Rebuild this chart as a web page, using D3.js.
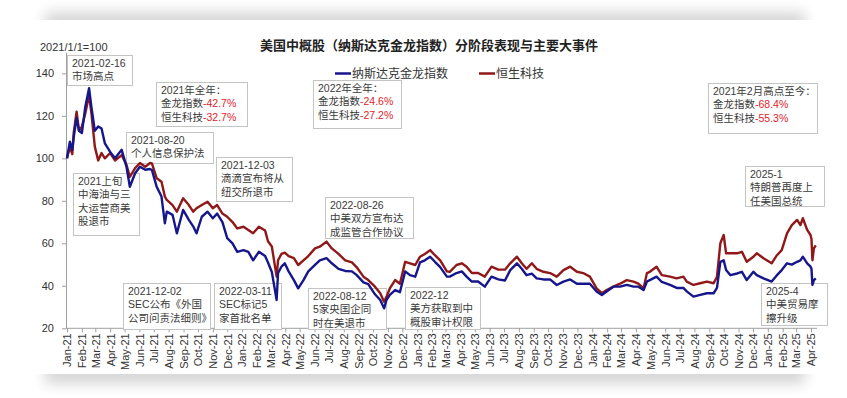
<!DOCTYPE html>
<html><head><meta charset="utf-8">
<script src="https://cdn.jsdelivr.net/npm/d3@7"></script>
<style>
html,body{margin:0;padding:0;background:#fff;}
svg{display:block;font-family:"Liberation Sans",Arial,"Noto Sans CJK SC",sans-serif;}
</style></head>
<body><svg id="c" width="847" height="398"></svg>
<script>
// ---------------- data ----------------
const dates = ["2021-01-01","2021-01-07","2021-01-12","2021-01-15","2021-01-21","2021-01-26","2021-02-01","2021-02-08","2021-02-16","2021-02-21",
"2021-02-28","2021-03-07","2021-03-14","2021-03-21","2021-04-01","2021-04-11","2021-04-25","2021-05-05","2021-05-12","2021-05-23",
"2021-06-02","2021-06-13","2021-06-23","2021-06-27","2021-07-07","2021-07-17","2021-07-24","2021-07-28","2021-08-09","2021-08-18",
"2021-08-31","2021-09-12","2021-09-21","2021-09-28","2021-10-09","2021-10-21","2021-11-01","2021-11-10","2021-11-21","2021-12-01",
"2021-12-12","2021-12-22","2022-01-04","2022-01-14","2022-01-24","2022-02-05","2022-02-18","2022-02-24","2022-03-04","2022-03-14",
"2022-03-17","2022-03-24","2022-03-31","2022-04-08","2022-04-19","2022-04-28","2022-05-09","2022-05-19","2022-06-02","2022-06-12","2022-06-26","2022-07-07","2022-07-21","2022-08-04","2022-08-18","2022-08-28","2022-09-11","2022-09-21","2022-10-05","2022-10-16","2022-10-24","2022-10-29","2022-11-05","2022-11-16","2022-11-26","2022-12-07","2022-12-17","2022-12-28","2023-01-07","2023-01-17","2023-01-28","2023-02-07","2023-02-18","2023-03-04","2023-03-10","2023-03-24","2023-04-04","2023-04-14","2023-04-25","2023-05-08","2023-05-22","2023-06-05","2023-06-19","2023-07-03","2023-07-14","2023-07-28","2023-08-07","2023-08-17","2023-08-28","2023-09-07","2023-09-21","2023-10-05","2023-10-19","2023-11-02","2023-11-16","2023-11-30","2023-12-13","2023-12-27","2024-01-10","2024-01-21","2024-01-31","2024-02-14","2024-02-28","2024-03-13","2024-03-27","2024-04-06","2024-04-17","2024-04-24","2024-04-30","2024-05-14","2024-05-25","2024-06-11","2024-06-25","2024-07-09","2024-07-16","2024-07-30","2024-08-13","2024-08-27","2024-09-10","2024-09-17","2024-09-24","2024-10-01","2024-10-06","2024-10-15","2024-10-29","2024-11-08","2024-11-18","2024-12-02","2024-12-09","2024-12-23","2025-01-09","2025-01-20","2025-01-30","2025-02-10","2025-02-20","2025-03-03","2025-03-10","2025-03-15","2025-03-24","2025-03-31","2025-04-02","2025-04-04","2025-04-07","2025-04-11"];
const goldenDragon = [100,107.8,104,110,119,113,111.9,124,133,124,
113,115,114,107,103,100,104,96,86.6,93,
96,94.6,95,94.5,86.6,82,69.4,74.9,73.4,64.7,
75.7,71,68,64.7,72.5,74.9,71.8,74,70,62.4,
60,56,56.8,56,52,56,54,51,46.5,33.3,
46,49,50.6,46.8,42.7,38.8,42.7,46.8,49.8,52,53,50.6,48,47,46.8,45,41.6,40.8,36,33.3,29.4,33.3,35.7,38,37,46.8,45,44.3,51,52,53.7,51.3,48.8,44.3,44.3,46,46.8,44.3,42,42,39.6,44.3,43,42.5,47.4,50.6,48,45,45.7,43.5,43,43,40.4,42,43,41,41,41,37.3,35.7,37.3,39.6,39.6,40.4,39.6,39.6,38,42,42.7,44.3,41.8,40.4,39,39,37.4,34.9,35.7,36.5,36.5,39,51.3,52,47.4,45,45.8,46.6,42.7,46.6,45,43.5,42,45,47.4,50.6,50,51.3,52,53.7,50.6,49,48,40.4,42.7,43.5];
const hangSengTech = [100,105.5,102,112,122,113,114.9,121,129.8,121,
105.5,99,102.5,100,102.5,99,101.5,97,91.3,95.4,
97.8,96,97.8,97.6,90.6,89,82,80.4,78,74.9,
81.2,78,74.9,76.5,78,79.6,76.5,78,74,72.5,
70,67,67.8,66.3,64.7,67.8,66,61,58.5,44.3,
52,55,55.6,54,53,49.8,52,54,57.6,58.4,60.8,57.6,55,52,51,48.7,44.3,42.7,39.6,36.5,32.5,34.8,38.8,42.7,41,51.3,50.6,49.8,53.7,55,56.8,54.4,52,46.8,46.6,49.8,50.6,49,46,46,44.3,49,47.6,47.6,50.6,53.7,50.6,48,50.6,48,46.6,46,44.3,47.4,49,46.6,46,44.3,38.8,36.5,38,39.6,41,42.7,42,41,38.8,46,46.6,49,45,44.3,43.5,44.3,42,40.4,41.2,42,41.2,44.3,60,63.9,55.3,55.3,55.3,56,51.3,53.7,55.3,53,50.6,54.4,56.8,64.7,68.6,71,68.6,71.8,66.3,63.9,62,52,57.6,59];
const seriesNames = ["纳斯达克金龙指数","恒生科技"];
const yTicks = [20,40,60,80,100,120,140];
const title = "美国中概股（纳斯达克金龙指数）分阶段表现与主要大事件";
const baseNote = "2021/1/1=100";
// annotation boxes: lines of [text, redPart]
const notes = [
  {box:[67,55,132,85], lines:[["2021-02-16"],["市场高点"]]},
  {box:[156,82,247,126], lines:[["2021年全年："],["金龙指数","-42.7%"],["恒生科技","-32.7%"]]},
  {box:[126,132,213,163], lines:[["2021-08-20"],["个人信息保护法"]]},
  {box:[216,157,292,201], lines:[["2021-12-03"],["滴滴宣布将从"],["纽交所退市"]]},
  {box:[73,173,139,235], lines:[["2021上旬"],["中海油与三"],["大运营商美"],["股退市"]]},
  {box:[123,283,210,329], lines:[["2021-12-02"],["SEC公布《外国"],["公司问责法细则》"]]},
  {box:[214,283,281,329], lines:[["2022-03-11"],["SEC标记5"],["家首批名单"]]},
  {box:[308,288,386,329], lines:[["2022-08-12"],["5家央国企同"],["时在美退市"]]},
  {box:[405,287,480,329], lines:[["2022-12"],["美方获取到中"],["概股审计权限"]]},
  {box:[325,197,413,238], lines:[["2022-08-26"],["中美双方宣布达"],["成监管合作协议"]]},
  {box:[313,80,401,128], lines:[["2022年全年："],["金龙指数","-24.6%"],["恒生科技","-27.2%"]]},
  {box:[708,83,817,133], lines:[["2021年2月高点至今："],["金龙指数","-68.4%"],["恒生科技","-55.3%"]]},
  {box:[745,166,824,206], lines:[["2025-1"],["特朗普再度上"],["任美国总统"]]},
  {box:[761,283,827,325], lines:[["2025-4"],["中美贸易摩"],["擦升级"]]}
];

// ---------------- drawing ----------------
const svg = d3.select("#c");
const defs = svg.append("defs");
defs.append("filter").attr("id","blur").attr("x","-20%").attr("y","-20%").attr("width","140%").attr("height","140%")
  .append("feGaussianBlur").attr("stdDeviation",7);
svg.append("rect").attr("x",0).attr("y",0).attr("width",847).attr("height",398).attr("fill","#fff");
svg.append("rect").attr("x",45).attr("y",12).attr("width",760).attr("height",372)
  .attr("fill","#000").attr("opacity",0.16).attr("filter","url(#blur)");
svg.append("rect").attr("x",0).attr("y",20).attr("width",847).attr("height",354).attr("fill","#fff");

const parse = d3.timeParse("%Y-%m-%d");
const n = Math.min(dates.length, goldenDragon.length, hangSengTech.length);
const data = d3.range(n).map(i=>({date:parse(dates[i]), a:goldenDragon[i], b:hangSengTech[i]}));

const x = d3.scaleTime().domain([parse("2021-01-01"), parse("2025-04-01")]).range([67, 811]);
const y = d3.scaleLinear().domain([20,150]).range([328.3, 52.1]);

const axisColor = "#a0a0a0", textColor = "#333";

// y axis
const ya = svg.append("g").attr("transform","translate(66,0)")
  .call(d3.axisLeft(y).tickValues(yTicks).tickSize(4).tickPadding(8).tickSizeOuter(0));
ya.select(".domain").attr("stroke",axisColor);
ya.selectAll(".tick line").attr("stroke",axisColor);
ya.selectAll("text").attr("font-size",11).attr("fill",textColor).attr("font-family","Liberation Sans, Arial, sans-serif");

// x axis
const months = d3.timeMonth.range(parse("2021-01-01"), parse("2025-04-02"));
const xa = svg.append("g").attr("transform","translate(0,328.3)")
  .call(d3.axisBottom(x).tickValues(months).tickFormat(d3.timeFormat("%b-%y")).tickSize(4).tickSizeOuter(0));
xa.select(".domain").attr("stroke",axisColor).attr("d","M66,0H817");
xa.selectAll(".tick line").attr("stroke",axisColor);
xa.selectAll("text").attr("font-size",11).attr("fill",textColor).attr("font-family","Liberation Sans, Arial, sans-serif")
  .attr("transform","rotate(-90)").attr("text-anchor","end").attr("x",-5).attr("y",0).attr("dy","0.35em");

// annotation boxes
const fs = 10.5, lh = 13.3;
notes.forEach(nt=>{
  const [x0,y0,x1,y1] = nt.box;
  const g = svg.append("g");
  g.append("rect").attr("x",x0+0.5).attr("y",y0+0.5).attr("width",x1-x0).attr("height",y1-y0)
    .attr("fill","#fff").attr("stroke","#c4c4c4").attr("stroke-width",1);
  nt.lines.forEach((ln,i)=>{
    const t = g.append("text").attr("x",x0+5).attr("y",y0+12+i*lh).attr("font-size",fs).attr("fill","#3a3a3a");
    t.append("tspan").text(ln[0]);
    if (ln[1]) t.append("tspan").attr("fill","#e3222b").text(ln[1]);
  });
});

// lines
const colors = ["#16168c","#901818"];
const lineA = d3.line().x(d=>x(d.date)).y(d=>y(d.a));
const lineB = d3.line().x(d=>x(d.date)).y(d=>y(d.b));
svg.append("path").datum(data).attr("d",lineB).attr("fill","none").attr("stroke",colors[1]).attr("stroke-width",2.4).attr("stroke-linejoin","round");
svg.append("path").datum(data).attr("d",lineA).attr("fill","none").attr("stroke",colors[0]).attr("stroke-width",2.4).attr("stroke-linejoin","round");

// title & notes
svg.append("text").attr("x",429).attr("y",50).attr("text-anchor","middle").attr("font-size",13).attr("font-weight","bold")
  .attr("fill","#222").attr("font-family","Noto Sans CJK SC, sans-serif").text(title);
svg.append("text").attr("x",40).attr("y",51).attr("font-size",11).attr("fill",textColor).text(baseNote);

// legend
const leg = [{x:335, c:colors[0], t:seriesNames[0]},{x:479, c:colors[1], t:seriesNames[1]}];
leg.forEach(l=>{
  svg.append("line").attr("x1",l.x).attr("x2",l.x+16).attr("y1",73.5).attr("y2",73.5).attr("stroke",l.c).attr("stroke-width",2.5);
  svg.append("text").attr("x",l.x+17).attr("y",78).attr("font-size",12).attr("fill",textColor).text(l.t);
});
</script></body></html>
